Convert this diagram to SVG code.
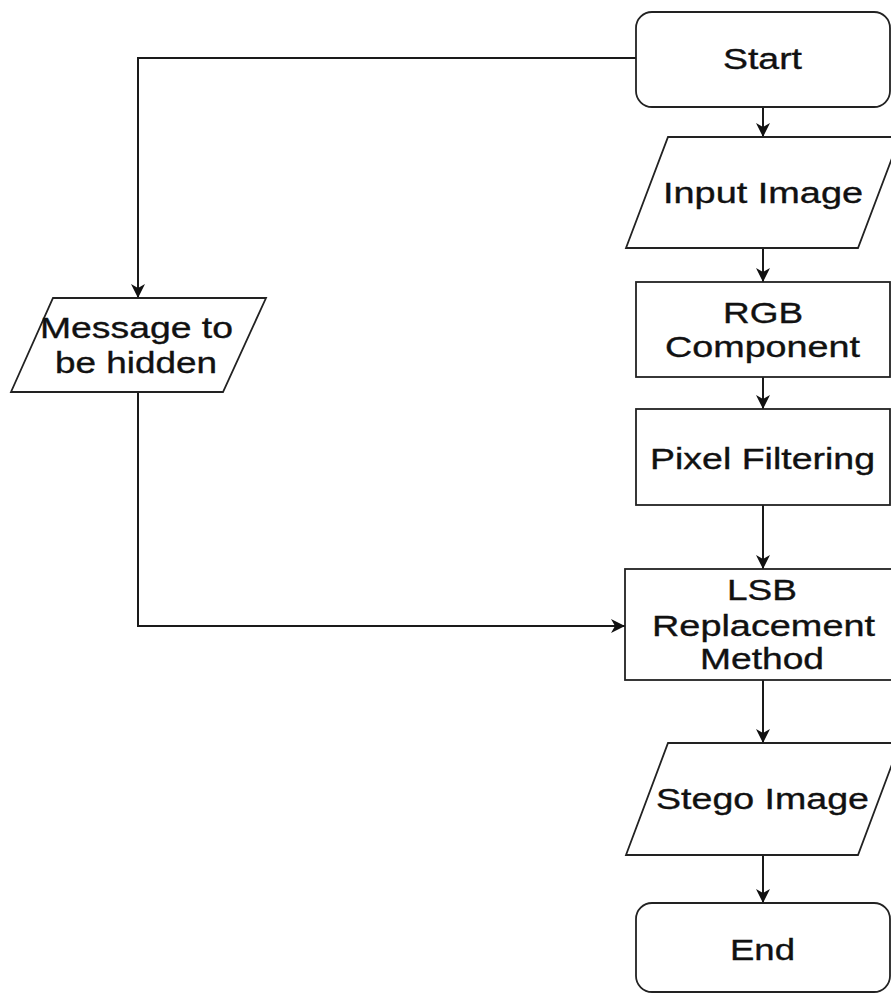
<svg xmlns="http://www.w3.org/2000/svg" width="891" height="995" viewBox="0 0 891 995">
<style>
.shape{fill:#fff;stroke:#222;stroke-width:1.8}
.conn{fill:none;stroke:#1a1a1a;stroke-width:2}
.lbl{font-family:"Liberation Sans",Arial,sans-serif;font-size:29px;fill:#111;stroke:#111;stroke-width:0.35}
</style>
<defs>
<marker id="arr" markerUnits="userSpaceOnUse" markerWidth="16" markerHeight="16" refX="14" refY="7" orient="auto">
<path d="M0,0 L14,7 L0,14 L4,7 z" fill="#111"/>
</marker>
</defs>
<rect width="891" height="995" fill="#fff"/>
<g id="connectors">
<line class="conn" x1="763" y1="107" x2="763" y2="137" marker-end="url(#arr)"/>
<line class="conn" x1="763" y1="248" x2="763" y2="282" marker-end="url(#arr)"/>
<line class="conn" x1="763" y1="377" x2="763" y2="409" marker-end="url(#arr)"/>
<line class="conn" x1="763" y1="505" x2="763" y2="569" marker-end="url(#arr)"/>
<line class="conn" x1="763" y1="680" x2="763" y2="743" marker-end="url(#arr)"/>
<line class="conn" x1="763" y1="855" x2="763" y2="903" marker-end="url(#arr)"/>
<polyline class="conn" points="636,58 138,58 138,298" marker-end="url(#arr)"/>
<polyline class="conn" points="138,392 138,626 625,626" marker-end="url(#arr)"/>
</g>
<g id="start">
<rect class="shape" x="636" y="12" width="254" height="95" rx="16"/>
<text class="lbl" x="723" y="69" textLength="79" lengthAdjust="spacingAndGlyphs">Start</text>
</g>
<g id="input-image">
<polygon class="shape" points="668,137 900,137 858,248 626,248"/>
<text class="lbl" x="663" y="203" textLength="200" lengthAdjust="spacingAndGlyphs">Input Image</text>
</g>
<g id="rgb-component">
<rect class="shape" x="636" y="282" width="254" height="95"/>
<text class="lbl" x="723" y="323" textLength="80" lengthAdjust="spacingAndGlyphs">RGB</text>
<text class="lbl" x="665" y="357" textLength="195" lengthAdjust="spacingAndGlyphs">Component</text>
</g>
<g id="pixel-filtering">
<rect class="shape" x="636" y="409" width="254" height="96"/>
<text class="lbl" x="650" y="469" textLength="225" lengthAdjust="spacingAndGlyphs">Pixel Filtering</text>
</g>
<g id="lsb-replacement">
<rect class="shape" x="625" y="569" width="270" height="111"/>
<text class="lbl" x="727" y="600" textLength="70" lengthAdjust="spacingAndGlyphs">LSB</text>
<text class="lbl" x="652" y="636" textLength="223" lengthAdjust="spacingAndGlyphs">Replacement</text>
<text class="lbl" x="700" y="669" textLength="124" lengthAdjust="spacingAndGlyphs">Method</text>
</g>
<g id="stego-image">
<polygon class="shape" points="668,743 900,743 858,855 626,855"/>
<text class="lbl" x="656" y="809" textLength="213" lengthAdjust="spacingAndGlyphs">Stego Image</text>
</g>
<g id="end">
<rect class="shape" x="636" y="903" width="254" height="89" rx="16"/>
<text class="lbl" x="730" y="960" textLength="65" lengthAdjust="spacingAndGlyphs">End</text>
</g>
<g id="message">
<polygon class="shape" points="53,298 266,298 223,392 11,392"/>
<text class="lbl" x="40" y="338" textLength="193" lengthAdjust="spacingAndGlyphs">Message to</text>
<text class="lbl" x="55" y="373" textLength="162" lengthAdjust="spacingAndGlyphs">be hidden</text>
</g>
</svg>
